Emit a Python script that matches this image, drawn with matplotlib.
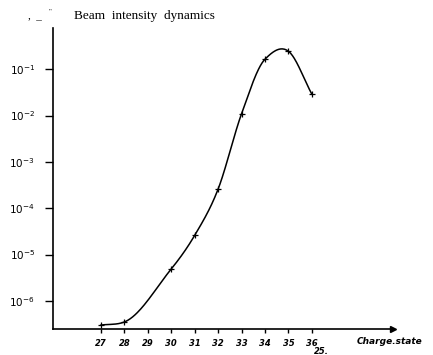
import numpy as np
import matplotlib.pyplot as plt

charge = [27, 28, 30, 31, 32, 33, 34, 35, 36]
intensity = [3.0e-7, 3.5e-7, 4.9e-6, 2.6e-5, 2.6e-4, 1.1e-2, 0.165, 0.245, 0.029]

xticks = [27, 28, 29, 30, 31, 32, 33, 34, 35, 36]
yticks = [1e-6, 1e-5, 1e-4, 1e-3, 1e-2, 1e-1]
ylabels = [r'$10^{-6}$', r'$10^{-5}$', r'$10^{-4}$', r'$10^{-3}$', r'$10^{-2}$', r'$10^{-1}$']

title = 'Beam  intensity  dynamics'
xlabel = 'Charge.state'


def smooth(x, y, n=40):
    # hand-drawn look: cubic hermite through the points in log space
    x = np.asarray(x, float)
    ly = np.log10(y)
    d = np.diff(ly) / np.diff(x)
    m = np.empty_like(ly)
    m[1:-1] = (ly[2:] - ly[:-2]) / (x[2:] - x[:-2])
    m[0] = d[0]
    m[-1] = d[-1]
    # limit slopes where the curve is monotone, avoids wiggles
    for i in range(1, len(x) - 1):
        if d[i - 1] * d[i] > 0:
            lim = 3 * min(abs(d[i - 1]), abs(d[i]))
            m[i] = np.sign(m[i]) * min(abs(m[i]), lim)
    xs, ys = [], []
    for i in range(len(x) - 1):
        h = x[i + 1] - x[i]
        t = np.linspace(0, 1, n, endpoint=False)
        h00 = 2*t**3 - 3*t**2 + 1
        h10 = t**3 - 2*t**2 + t
        h01 = -2*t**3 + 3*t**2
        h11 = t**3 - t**2
        xs.append(x[i] + t*h)
        ys.append(h00*ly[i] + h10*h*m[i] + h01*ly[i+1] + h11*h*m[i+1])
    xs.append([x[-1]])
    ys.append([ly[-1]])
    return np.concatenate(xs), 10**np.concatenate(ys)


fig = plt.figure(figsize=(4.33, 3.55), dpi=100)
ax = fig.add_axes([0.1224, 0.073, 0.785, 0.848])

cx, cy = smooth(charge, intensity)
ax.plot(cx, cy, color='black', lw=1.1)
ax.plot(charge, intensity, ls='none', marker='+', color='black', ms=5, mew=0.9)

ax.set_yscale('log')
ax.set_xlim(24.95, 39.46)
ax.set_ylim(10**-6.61, 10**-0.11)
ax.minorticks_off()

ax.set_xticks(xticks)
ax.set_xticklabels([str(v) for v in xticks], fontsize=6, fontweight='bold', style='italic')
ax.set_yticks(yticks)
ax.set_yticklabels(ylabels, fontsize=7.5, fontweight='bold', style='italic')
ax.tick_params(axis='x', length=3, width=1, pad=4)
ax.tick_params(axis='y', length=6, width=1, pad=7)

for s in ['top', 'right']:
    ax.spines[s].set_visible(False)
for s in ['left', 'bottom']:
    ax.spines[s].set_linewidth(1.2)

# arrow head at the end of the x axis
ax.plot([1.0], [0.0], marker='>', ms=4, color='black', transform=ax.transAxes, clip_on=False)

ax.text(0.99, -0.04, xlabel, transform=ax.transAxes, ha='center', va='center',
        fontsize=6.5, fontweight='bold', style='italic')
ax.text(0.79, -0.075, '25.', transform=ax.transAxes, ha='center', va='center',
        fontsize=6, fontweight='bold', style='italic')

fig.text(0.065, 0.955, ',  _', fontsize=8, family='Liberation Serif', va='center')
fig.text(0.112, 0.97, '"', fontsize=5, family='Liberation Serif', va='center')
fig.text(0.172, 0.955, title, fontsize=9.5, family='Liberation Serif', va='center')

fig.savefig('out.png', dpi=100)
